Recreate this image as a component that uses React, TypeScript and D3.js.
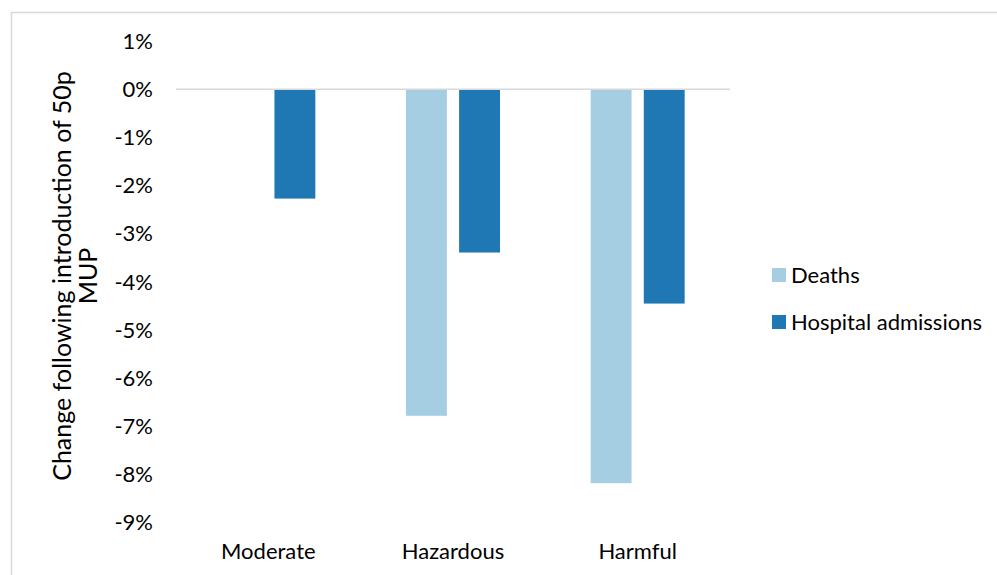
import * as d3 from "d3";

const categories = ["Moderate", "Hazardous", "Harmful"];
const seriesNames = ["Deaths", "Hospital admissions"];
const deaths = [0, -6.78, -8.18];
const hospital = [-2.27, -3.39, -4.45];
const yTicks = [1, 0, -1, -2, -3, -4, -5, -6, -7, -8, -9];

const colors = ["#a6cee3", "#1f78b4"];
const font = "Lato, 'Open Sans', sans-serif";

export default function App() {
    const width = 997;
    const height = 575;

    // plot area
    const x0 = d3.scaleBand<string>().domain(categories).range([176, 730]).padding(0);
    const groupWidth = 94;
    const x1 = d3.scaleBand<string>().domain(seriesNames).range([0, groupWidth]).paddingInner(0.23);
    const y = d3.scaleLinear().domain([-9, 1]).range([522.7, 41.1]);

    const values = [deaths, hospital];

    return (
        <svg
            width={width}
            height={height}
            style={{ position: "absolute", left: 0, top: 0, background: "#fff" }}
            fontFamily={font}
        >
            <rect x={11.5} y={12.5} width={1000} height={600} fill="#fff" stroke="#d9d9d9" strokeWidth={1.5} />

            {/* y tick labels */}
            {yTicks.map(t => (
                <text key={t} x={153} y={y(t)} dy="0.35em" textAnchor="end" fontSize={22} fill="#000">
                    {t + "%"}
                </text>
            ))}

            {/* bars */}
            {seriesNames.map((s, si) =>
                categories.map((c, ci) => {
                    const v = values[si][ci];
                    const gx = (x0(c) as number) + (x0.bandwidth() - groupWidth) / 2;
                    return (
                        <rect
                            key={s + c}
                            x={gx + (x1(s) as number)}
                            y={y(Math.max(0, v))}
                            width={x1.bandwidth()}
                            height={Math.abs(y(v) - y(0))}
                            fill={colors[si]}
                        />
                    );
                })
            )}

            {/* zero line */}
            <line x1={176} x2={730} y1={y(0)} y2={y(0)} stroke="#d9d9d9" strokeWidth={1.5} />

            {/* category labels */}
            {categories.map(c => (
                <text
                    key={c}
                    x={(x0(c) as number) + x0.bandwidth() / 2}
                    y={559}
                    textAnchor="middle"
                    fontSize={22}
                    fill="#000"
                >
                    {c}
                </text>
            ))}

            {/* y axis title */}
            <g transform="translate(62,276) rotate(-90)">
                <text x={0} y={0} dy="0.35em" textAnchor="middle" fontSize={25} fill="#000">
                    Change following introduction of 50p
                </text>
                <text x={0} y={26} dy="0.35em" textAnchor="middle" fontSize={25} fill="#000">
                    MUP
                </text>
            </g>

            {/* legend */}
            {seriesNames.map((s, i) => (
                <g key={s} transform={`translate(772,${268 + i * 47})`}>
                    <rect x={0} y={0} width={14} height={14} fill={colors[i]} />
                    <text x={19} y={7} dy="0.35em" fontSize={22} fill="#000">
                        {s}
                    </text>
                </g>
            ))}
        </svg>
    );
}
